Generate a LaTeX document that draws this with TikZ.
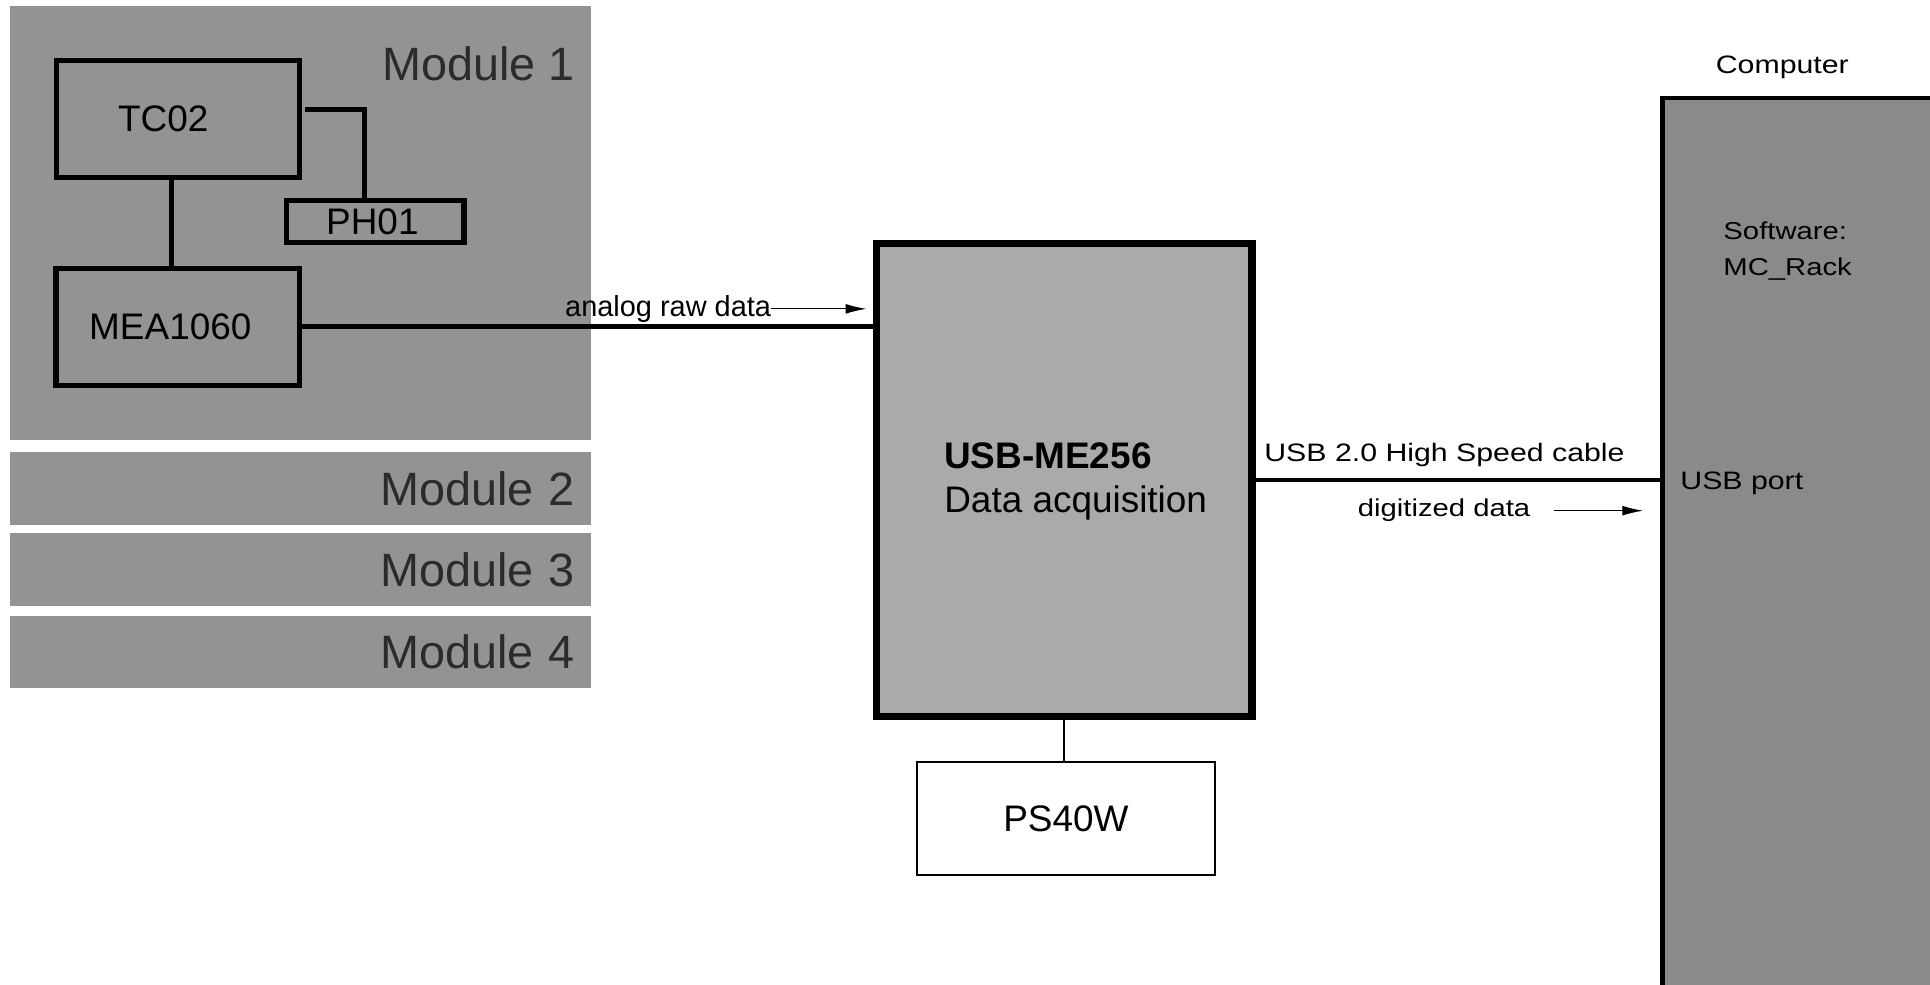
\documentclass[tikz,border=0pt]{standalone}
\usepackage{fontspec}
\setmainfont{Liberation Sans}
\newfontfamily\widefont[FakeStretch=1.2]{Liberation Sans}
\usetikzlibrary{arrows.meta}
\definecolor{modgray}{HTML}{939393}
\definecolor{daqgray}{HTML}{AAAAAA}
\definecolor{pcgray}{HTML}{8A8A8A}
\definecolor{modtext}{HTML}{2B2B2B}
\begin{document}
\begin{tikzpicture}[x=1pt,y=-1pt,
	modbox/.style={fill=modgray,anchor=north west,minimum width=472pt,inner sep=0pt},
	modname/.style={text=modtext,font=\fontsize{38}{44}\selectfont},
	dev/.style={draw,line width=4.2pt,inner sep=0pt,align=left,font=\fontsize{30}{36}\selectfont},
	wire/.style={line width=4pt},
	flow/.style={line width=1pt,-{Latex[length=17pt,width=8pt]}},
	txt/.style={inner sep=0pt,font=\fontsize{23.5}{28}\selectfont},
	wide/.style={inner sep=0pt,font=\widefont\fontsize{#1}{29}\selectfont},wide/.default=20.5]
	\useasboundingbox (0,0) rectangle (1568,800) ;
	\clip (0,0) rectangle (1568,800) ;
	\node[modbox,minimum height=352pt] (mod1) at (8,5) {} ;
	\node[modname,anchor=base east,inner sep=0pt] (mod1name) at (467,65) {Module 1} ;
	\foreach \n/\y in {2/367,3/433,4/500}
		\node[modbox,modname,minimum height=59pt,text width=446pt,inner xsep=13pt,align=right] (mod\n) at (8,\y) {Module \n} ;
	\node[dev,minimum width=197pt,minimum height=95pt,inner xsep=50pt,text width=97pt] (tc02) at (144.5,96.5) {TC02} ;
	\node[dev,minimum width=144pt,minimum height=34pt,inner xsep=32pt,text width=80pt] (ph01) at (305,180) {PH01} ;
	\node[dev,minimum width=198pt,minimum height=95pt,inner xsep=27pt,text width=144pt] (mea) at (144.5,265.5) {MEA1060} ;
	\node[dev,line width=6pt,fill=daqgray,minimum width=305pt,minimum height=384pt] (daq) at (864.5,390) {} ;
	\node[dev,line width=2pt,fill=white,minimum width=242pt,minimum height=92pt] (ps40w) at (866,665) {PS40W} ;
	\node[draw,line width=3.5pt,fill=pcgray,anchor=north west,minimum width=300pt,minimum height=800pt] (pc) at (1349,78) {} ;
	\node[anchor=west,align=left,inner sep=0pt,font=\fontsize{30}{36}\selectfont] (daqname) at (767,391) {\textbf{USB-ME256}\\Data acquisition} ;
	\node[txt,anchor=base west] (rawlbl) at (459,257) {analog raw data} ;
	\node[wide,anchor=base west] (cablelbl) at (1027,375) {USB 2.0 High Speed cable} ;
	\node[wide=19.8,anchor=base west] (diglbl) at (1103,420) {digitized data} ;
	\node[wide,anchor=base] (pclbl) at (1448,60) {Computer} ;
	\node[wide=19.8,anchor=west,align=left] (sw) at (1400,204) {Software:\\MC\_Rack} ;
	\node[wide,anchor=base west] (usbport) at (1365,397.5) {USB port} ;
	\draw[wire] ([xshift=-5pt]tc02.south) -- ([xshift=-5pt]mea.north) ;
	\draw[wire,shorten <=3pt] ([yshift=7.5pt]tc02.east) -| ([xshift=-9pt]ph01.north) ;
	\draw[wire] (mea.east) -- (mea.east -| daq.west) ;
	\draw[line width=1.5pt] (daq.south) -- (daq.south |- ps40w.north) ;
	\draw[line width=3.3pt] (daq.east) -- (daq.east -| pc.west) ;
	\draw[flow,shorten >=5pt] (rawlbl.east) -- (rawlbl.east -| daq.west) ;
	\draw[flow,shorten >=14pt] ([xshift=19pt]diglbl.east) -- (diglbl.east -| pc.west) ;
\end{tikzpicture}
\end{document}
